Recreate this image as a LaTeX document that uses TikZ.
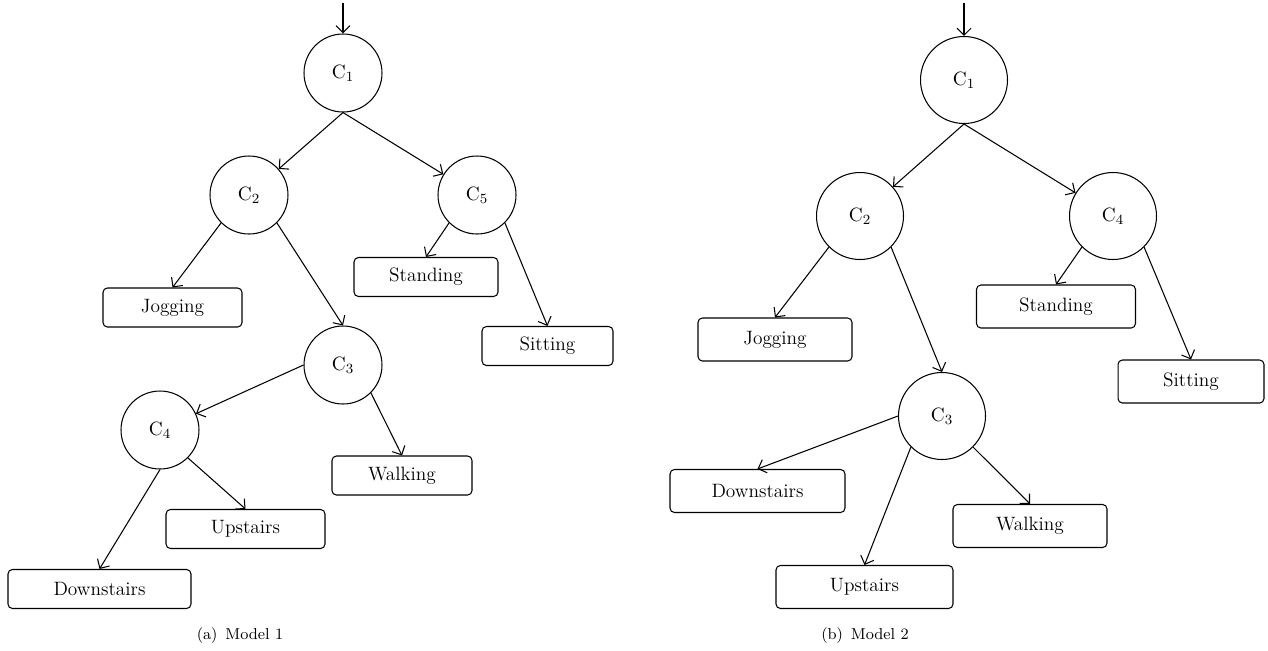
\documentclass[tikz,border=0pt]{standalone}
\usepackage{amsmath}
\usepackage{amssymb}
\usepackage{tikz}
\usetikzlibrary{arrows.meta}

\begin{document}
\begin{tikzpicture}[x=0.02cm, y=-0.02cm, line width=0.6pt,
        >={Straight Barb[length=4pt,width=8pt]},
        cnode/.style={circle, draw, minimum size=1.56cm, inner sep=0pt, font=\fontsize{11}{13}\selectfont},
        bignode/.style={cnode, minimum size=1.74cm},
        leaf/.style={draw, rounded corners=2.5pt, minimum height=0.78cm, inner sep=0pt, font=\fontsize{11}{13}\selectfont},
        bigleaf/.style={leaf, minimum height=0.86cm},
        capt/.style={font=\fontsize{9}{11}\selectfont}]
    \useasboundingbox (0,0) rectangle (1268,650);

    % Model 1
    \coordinate (in1) at (343,3);
    \node[cnode] (c1) at (343,73) {$\mathrm{C}_1$};
    \node[cnode] (c2) at (249,195) {$\mathrm{C}_2$};
    \node[cnode] (c5) at (477,195) {$\mathrm{C}_5$};
    \node[cnode] (c3) at (343,365) {$\mathrm{C}_3$};
    \node[cnode] (c4) at (160,430) {$\mathrm{C}_4$};
    \node[leaf, minimum width=2.78cm] (jog) at (172.5,307.5) {Jogging};
    \node[leaf, minimum width=2.88cm] (stand) at (426,277) {Standing};
    \node[leaf, minimum width=2.62cm] (sit) at (547.5,346) {Sitting};
    \node[leaf, minimum width=2.80cm] (walk) at (402,475.5) {Walking};
    \node[leaf, minimum width=3.18cm] (up) at (245.5,529) {Upstairs};
    \node[leaf, minimum width=3.66cm] (down) at (99.5,589) {Downstairs};

    \draw[->] (in1) -- (c1);
    \draw[->] (c1.south) -- (c2);
    \draw[->] (c1.south) -- (c5);
    \draw[->] (c2.-135) -- (jog.north);
    \draw[->] (c2.-45) -- (c3.north);
    \draw[->] (c5.-135) -- (stand.north);
    \draw[->] (c5.-45) -- (sit.north);
    \draw[->] (c3.west) -- (c4);
    \draw[->] (c3.-45) -- (walk.north);
    \draw[->] (c4.-45) -- (up.north);
    \draw[->] (c4.south) -- (down.north);

    \node[capt] (cap1) at (240,636) {(a)\enspace Model 1};

    % Model 2
    \coordinate (in2) at (964,3);
    \node[bignode] (r1) at (964,80) {$\mathrm{C}_1$};
    \node[bignode] (r2) at (860,216) {$\mathrm{C}_2$};
    \node[bignode] (r4) at (1113,216) {$\mathrm{C}_4$};
    \node[bignode] (r3) at (942,416) {$\mathrm{C}_3$};
    \node[bigleaf, minimum width=3.08cm] (rjog) at (775,339.5) {Jogging};
    \node[bigleaf, minimum width=3.18cm] (rstand) at (1056,306.5) {Standing};
    \node[bigleaf, minimum width=2.92cm] (rsit) at (1191,381.5) {Sitting};
    \node[bigleaf, minimum width=3.50cm] (rdown) at (757.5,491) {Downstairs};
    \node[bigleaf, minimum width=3.08cm] (rwalk) at (1030,526) {Walking};
    \node[bigleaf, minimum width=3.54cm] (rup) at (864.5,587) {Upstairs};

    \draw[->] (in2) -- (r1);
    \draw[->] (r1.south) -- (r2);
    \draw[->] (r1.south) -- (r4);
    \draw[->] (r2.-135) -- (rjog.north);
    \draw[->] (r2.-45) -- (r3.north);
    \draw[->] (r4.-135) -- (rstand.north);
    \draw[->] (r4.-45) -- (rsit.north);
    \draw[->] (r3.west) -- (rdown.north);
    \draw[->] (r3.-135) -- (rup.north);
    \draw[->] (r3.-45) -- (rwalk.north);

    \node[capt] (cap2) at (865,636) {(b)\enspace Model 2};

\end{tikzpicture}
\end{document}
